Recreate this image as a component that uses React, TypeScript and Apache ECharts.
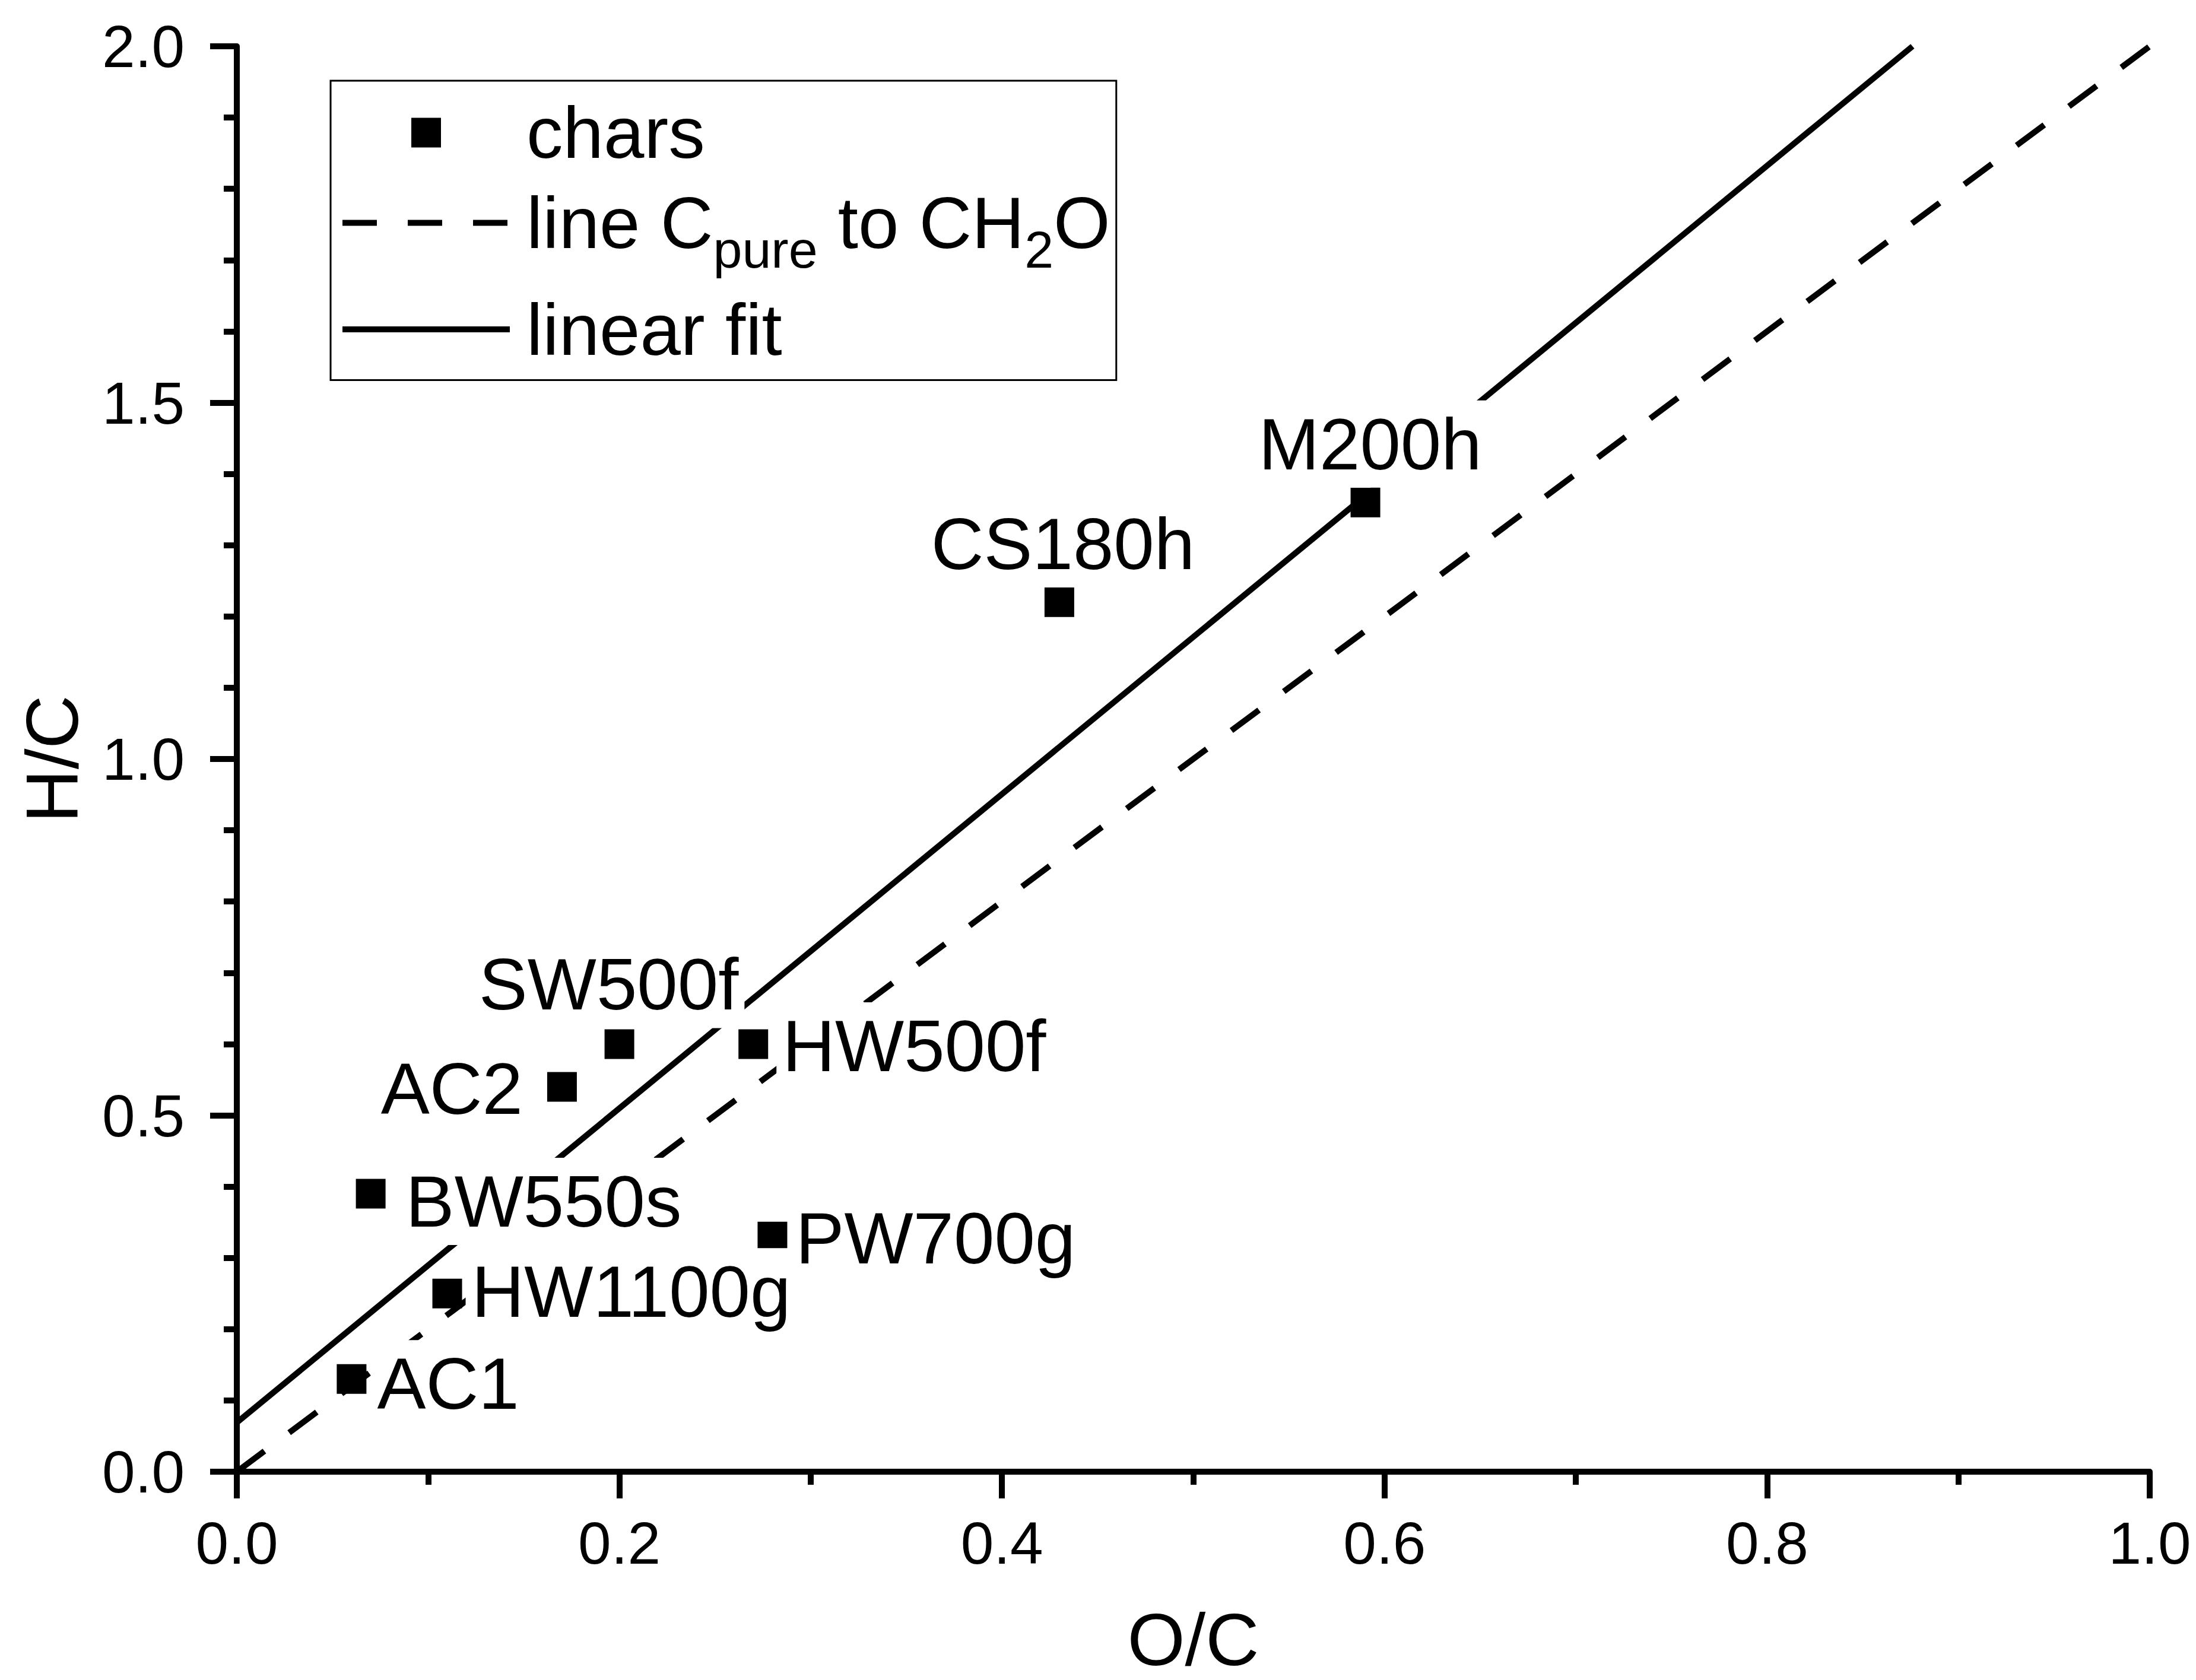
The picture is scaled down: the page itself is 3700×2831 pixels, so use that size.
import React, { useEffect, useRef } from "react";
import * as echarts from "echarts";

// ---- data ----
const sampleNames = ["AC1", "HW1100g", "BW550s", "AC2", "SW500f", "HW500f", "PW700g", "CS180h", "M200h"];
const ocValues = [0.06, 0.11, 0.07, 0.17, 0.2, 0.27, 0.28, 0.43, 0.59];
const hcValues = [0.13, 0.25, 0.39, 0.54, 0.6, 0.6, 0.33, 1.22, 1.36];

// line from pure carbon to CH2O
const cpureOC = [0, 1];
const cpureHC = [0, 2];
// linear fit line (end points)
const fitOC = [0, 0.876];
const fitHC = [0.069, 2.0];

const xTickValues = [0, 0.2, 0.4, 0.6, 0.8, 1.0];
const yTickValues = [0, 0.5, 1.0, 1.5, 2.0];

const SERIES_CHARS = "chars";
const SERIES_CPURE = "line Cpure to CH2O";
const SERIES_FIT = "linear fit";

// ---- styling (label placement per sample) ----
const labelPlacement: Record<string, { position: string; distance: number; offset: number[] }> = {
  AC1: { position: "right", distance: 8, offset: [0, 8] },
  HW1100g: { position: "right", distance: 6, offset: [0, -3] },
  BW550s: { position: "right", distance: 24, offset: [0, 13] },
  AC2: { position: "left", distance: 31, offset: [0, 3] },
  SW500f: { position: "top", distance: 2, offset: [-18, 0] },
  HW500f: { position: "right", distance: 14, offset: [0, 3] },
  PW700g: { position: "right", distance: 4, offset: [0, 3] },
  CS180h: { position: "top", distance: 0, offset: [6, 0] },
  M200h: { position: "top", distance: 0, offset: [8, 0] },
};

const FONT = "'Liberation Sans', Arial, Helvetica, sans-serif";
const LINE_W = 10;

export default function App() {
  const ref = useRef<HTMLDivElement>(null);

  useEffect(() => {
    document.body.style.margin = "0";
    document.body.style.overflow = "hidden";
    if (!ref.current) return;
    const chart = echarts.init(ref.current, null, { renderer: "svg" });

    const scatterData = sampleNames.map((name, i) => {
      const p = labelPlacement[name];
      return {
        name,
        value: [ocValues[i], hcValues[i]],
        label: { position: p.position, distance: p.distance, offset: p.offset },
      };
    });

    const option: any = {
      animation: false,
      backgroundColor: "#ffffff",
      textStyle: { fontFamily: FONT },
      grid: { left: 399, right: 78, top: 78, bottom: 351, containLabel: false },
      legend: {
        orient: "vertical",
        left: 557,
        top: 136,
        padding: [26, 10, 24, 15],
        itemGap: 29,
        itemWidth: 282,
        itemHeight: 50,
        borderColor: "#000",
        borderWidth: 3,
        selectedMode: false,
        lineStyle: { width: LINE_W },
        textStyle: {
          fontFamily: FONT,
          fontSize: 123,
          color: "#000",
          rich: {
            f: { fontFamily: FONT, fontSize: 123, color: "#000", padding: [0, 0, 0, 23] },
            n: { fontFamily: FONT, fontSize: 123, color: "#000" },
            s: { fontFamily: FONT, fontSize: 88, color: "#000", padding: [90, 0, 0, 0] },
          },
        },
        formatter: (name: string) =>
          name === SERIES_CPURE ? "{f|line C}{s|pure}{n| to CH}{s|2}{n|O}" : "{f|" + name + "}",
        data: [
          { name: SERIES_CHARS, icon: "path://M0 0H10V10H0Z" },
          { name: SERIES_CPURE, itemStyle: { opacity: 0 } },
          { name: SERIES_FIT, itemStyle: { opacity: 0 } },
        ],
      },
      xAxis: {
        type: "value",
        min: xTickValues[0],
        max: xTickValues[xTickValues.length - 1],
        interval: 0.2,
        name: "O/C",
        nameLocation: "middle",
        nameGap: 220,
        nameTextStyle: { fontFamily: FONT, fontSize: 125, color: "#000" },
        axisLine: { show: true, lineStyle: { color: "#000", width: LINE_W } },
        axisTick: { show: true, inside: false, length: 45, lineStyle: { color: "#000", width: LINE_W } },
        minorTick: { show: true, splitNumber: 2, length: 22, lineStyle: { color: "#000", width: LINE_W } },
        splitLine: { show: false },
        minorSplitLine: { show: false },
        axisLabel: {
          fontFamily: FONT,
          fontSize: 100,
          color: "#000",
          margin: 70,
          formatter: (v: number) => v.toFixed(1),
        },
      },
      yAxis: {
        type: "value",
        min: yTickValues[0],
        max: yTickValues[yTickValues.length - 1],
        interval: 0.5,
        name: "H/C",
        nameLocation: "middle",
        nameGap: 249,
        nameTextStyle: { fontFamily: FONT, fontSize: 125, color: "#000" },
        axisLine: { show: true, lineStyle: { color: "#000", width: LINE_W } },
        axisTick: { show: true, inside: false, length: 45, lineStyle: { color: "#000", width: LINE_W } },
        minorTick: { show: true, splitNumber: 5, length: 22, lineStyle: { color: "#000", width: LINE_W } },
        splitLine: { show: false },
        minorSplitLine: { show: false },
        axisLabel: {
          fontFamily: FONT,
          fontSize: 100,
          color: "#000",
          margin: 88,
          formatter: (v: number) => v.toFixed(1),
        },
      },
      series: [
        {
          name: SERIES_CPURE,
          type: "line",
          z: 2,
          symbol: "none",
          showSymbol: false,
          data: cpureOC.map((x, i) => [x, cpureHC[i]]),
          itemStyle: { color: "#000" },
          lineStyle: { color: "#000", width: LINE_W, type: [58, 52], cap: "butt" },
          emphasis: { disabled: true },
          silent: true,
        },
        {
          name: SERIES_FIT,
          type: "line",
          z: 2,
          symbol: "none",
          showSymbol: false,
          data: fitOC.map((x, i) => [x, fitHC[i]]),
          itemStyle: { color: "#000" },
          lineStyle: { color: "#000", width: LINE_W, type: "solid" },
          emphasis: { disabled: true },
          silent: true,
        },
        {
          name: SERIES_CHARS,
          type: "scatter",
          z: 3,
          symbol: "rect",
          symbolSize: 50,
          itemStyle: { color: "#000", opacity: 1 },
          label: {
            show: true,
            formatter: "{b}",
            fontFamily: FONT,
            fontSize: 123,
            color: "#000",
            opacity: 1,
            backgroundColor: "#fff",
            padding: [12, 10, 12, 10],
          },
          emphasis: { disabled: true },
          data: scatterData,
        },
      ],
    };

    chart.setOption(option);
    return () => chart.dispose();
  }, []);

  return <div ref={ref} style={{ width: 3700, height: 2831, background: "#fff" }} />;
}
